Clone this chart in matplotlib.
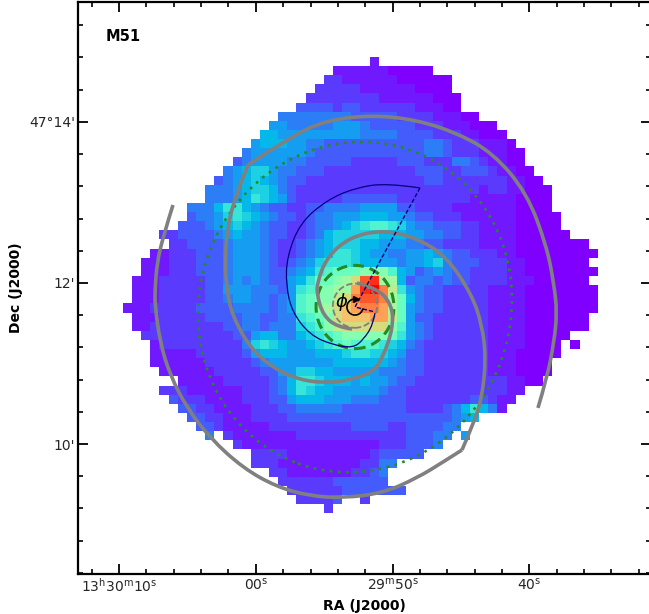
import numpy as np
import matplotlib
matplotlib.use("Agg")
import matplotlib.pyplot as plt
from matplotlib.colors import PowerNorm
from matplotlib.patches import Arc, Circle, Ellipse, PathPatch
from matplotlib.path import Path

# CO intensity map, one char per cell: '.' is blank, 0..k is 0..1 in steps of 0.05
levels = "0123456789abcdefghijk"
intensity_rows = [
    ".......... .......... .......1.. .......... .......... ..",
    ".......... .......... ...1111110 0000...... .......... ..",
    ".......... .......... ..22111111 000000.... .......... ..",
    ".......... .......... .222221111 110000.... .......... ..",
    ".......... .......... 2222222211 1111000... .......... ..",
    ".......... .........3 3332332222 2211100... .......... ..",
    ".......... .......444 4444433333 222211100. .......... ..",
    ".......... ......5544 4445554333 3322211100 0......... ..",
    ".......... .....66555 5555554444 3333222110 00........ ..",
    ".......... ....566655 4433333333 3334432221 110....... ..",
    ".......... ...4555555 4333333333 3334432221 1100...... ..",
    ".......... ..34555544 3333322222 3332224432 1100...... ..",
    ".......... .456775443 3322222222 2233322333 21100..... ..",
    ".......... 3456765433 2222222222 2223322222 221100.... ..",
    ".........4 4456776432 2222222222 2222222221 2211000... ..",
    ".........4 4456876532 2222333333 2222222211 1110000... ..",
    ".......444 6886543322 3344445555 3322221111 1110000... ..",
    ".......344 5787654332 3445556665 5433222111 11100000.. ..",
    "......3334 5676543322 3445678998 7544333221 11100000.. ..",
    "....223333 4565543322 3467777766 6554433221 111000000. ..",
    ".....22333 3455543223 4567776655 5443322221 1110000000 0.",
    "...1122233 3455543223 4568876554 4556543322 2110000000 00",
    "..11122233 3455543234 5788876655 4556743332 2211000000 0.",
    "..11122233 3455543345 689aaabbb9 6534543322 2211000000 00",
    ".111222223 3454543356 8aabceijcc 6344343322 2211100000 0.",
    ".111222223 3555444358 9bbccgjkhd 8543322222 1111000000 00",
    ".111222223 3455443459 abbdehiihc a643322222 1111000000 00",
    "1112222233 3344443459 abcefghhgc a543322222 1111000000 00",
    ".111222223 3334433448 9abefffggd a533222222 1111000000 0.",
    ".112222222 2334434447 89bdeeeeeb 9543222222 1111000000 0.",
    "..22222222 2233566446 789abbbbba 8543222222 111100000. ..",
    "...1222222 2224787655 6789a99987 6432222222 11110000.0 ..",
    "...1111122 2223566655 5666788776 5332222222 11100000.. ..",
    "...1111112 2222345555 5556666665 4332222222 1110000... ..",
    "....111111 2222233557 7665555544 4332222222 1110000... ..",
    "......1111 1222223468 8766656554 3322222222 221100.... ..",
    "....222111 1112223468 7665555543 3222222222 2211...... ..",
    ".....32221 1112223356 6655544433 3222222233 211....... ..",
    "......3322 1111222334 4444333333 3222234686 41........ ..",
    ".......332 2111222233 3333333333 333333456. .......... ..",
    "........33 2111112222 2222233332 2333344... .......... ..",
    ".........4 .211111112 2222222222 233344.5.. .......... ..",
    ".......... ..21111111 1111111122 23334..... .......... ..",
    ".......... ....222211 1111111233 333....... .......... ..",
    ".......... ....222111 1111112244 .......... .......... ..",
    ".......... ......2211 111112234. .......... .......... ..",
    ".......... .......222 222333333. .......... .......... ..",
    ".......... ........22 2222333333 3......... .......... ..",
    ".......... .........2 2223..2... .......... .......... ..",
    ".......... .......... ..2....... .......... .......... ..",
]

# everything below in arcsec from the nucleus (x grows to the west)
arm1a_x = [-135.6, -143, -147.5, -149, -149, -145.3, -137.8, -125.2, -108, -83.4, -58.1, -33.5, -8.9,
           20.9, 46.2, 65.6, 79.7]
arm1a_y = [76, 52.2, 32.8, 12.7, 1.5, -26.1, -50.7, -75.2, -97.6, -120, -134.1, -140.8, -142.3,
           -138.6, -127.4, -115.5, -106.5]
arm1b_x = [79.7, 87.9, 94.6, 97.6, 94.6, 87.2, 68.5, 46.2, 20.9, -3.7, -20.9, -28.3, -28.3, -23.8,
           -13.4, -2.2]
arm1b_y = [-106.5, -87.9, -67.8, -38, -13.4, 8.9, 37.3, 51.4, 57.4, 52.2, 37.3, 17.9, 8.9, -6,
           -14.9, -16.4]
arm2a_x = [136.3, 143, 148.3, 150.5, 148.3, 143, 128.1, 102.8, 76, 46.2, 13.4, -20.9, -48.4, -79.7]
arm2a_y = [-75.2, -52.9, -26.1, -3.7, 16.4, 44.7, 84.9, 114.7, 129.6, 139.3, 143, 139.3, 126.7, 105.8]
arm2b_x = [-79.7, -89.4, -95.4, -96.9, -95.4, -91.6, -78.2, -61.1, -41, -20.9, -3.7, 13.4, 20.9, 28.3,
           27.6, 16.4, 1.5]
arm2b_y = [105.8, 82, 57.4, 32.8, 12.7, -6, -30.5, -45.4, -54.4, -56.6, -54.4, -48.4, -37.3, -15.6,
           1.5, 14.2, 17.9]
spiral_x = [48.4, 23.8, 0, -20.9, -41, -50.7, -51.4, -46.9, -33.5, -16.4, -1.5, 6, 13.4, 14.9]
spiral_y = [88.7, 92.4, 88.7, 79.7, 62.6, 37.3, 16.4, -3.7, -20.9, -28.3, -30.5, -24.6, -13.4, -4.5]
wedge_x = [48.4, 0, 14.9]
wedge_y = [88.7, 0, -3.7]

ra_sec = [10, 0, -10, -20]
ra_labels = [r"13$^{\mathrm{h}}$30$^{\mathrm{m}}$10$^{\mathrm{s}}$", r"00$^{\mathrm{s}}$",
             r"29$^{\mathrm{m}}$50$^{\mathrm{s}}$", r"40$^{\mathrm{s}}$"]
dec_min = [14, 12, 10]
dec_labels = ["47\u00b014'", "12'", "10'"]


def ra_to_x(sec):
    return (10 - np.asarray(sec, dtype=float)) * 10.19 - 175.8


def dec_to_y(arcmin):
    return (np.asarray(arcmin, dtype=float) - 12) * 60 + 17.9


def load_map():
    vals = []
    for row in intensity_rows:
        row = row.replace(" ", "").ljust(52, ".")
        vals.append([np.nan if c == "." else levels.index(c) / 20 for c in row])
    return np.ma.masked_invalid(np.array(vals))


def draw_curve(ax, xs, ys, **kw):
    # quadratic beziers with the read points as controls, keeps the arm from looking faceted
    pts = np.column_stack([xs, ys])
    verts = [pts[0]]
    codes = [Path.MOVETO]
    for i in range(1, len(pts) - 1):
        end = pts[i + 1] if i == len(pts) - 2 else (pts[i] + pts[i + 1]) / 2
        verts += [pts[i], end]
        codes += [Path.CURVE3, Path.CURVE3]
    ax.add_patch(PathPatch(Path(verts, codes), fill=False, **kw))


fig = plt.figure(figsize=(6.49, 6.14), dpi=100)
ax = fig.add_axes([78 / 649, 1 - 574 / 614, 572.5 / 649, 572 / 614])

data = load_map()
x_edges = -172.9 + 6.805 * np.arange(data.shape[1] + 1)
y_edges = 186.3 - 6.8 * np.arange(data.shape[0] + 1)
ax.pcolormesh(x_edges, y_edges, data, cmap="rainbow", norm=PowerNorm(1.12, vmin=0, vmax=1), linewidth=0,
              rasterized=True)

ax.add_patch(Ellipse((0, 0), 232, 248, angle=-20, fill=False, ec="#228b22", lw=1.9, ls=(0, (1, 2.1))))
ax.add_patch(Ellipse((0, 0), 58, 62, fill=False, ec="#228b22", lw=2.2, ls=(0, (3.5, 2))))
ax.add_patch(Circle((0, 1), 16.5, fill=False, ec="gray", lw=1.3, ls=(0, (3.5, 1.5))))

for xs, ys in [(arm1a_x, arm1a_y), (arm1b_x, arm1b_y), (arm2a_x, arm2a_y), (arm2b_x, arm2b_y)]:
    draw_curve(ax, xs, ys, ec="gray", lw=2.6, capstyle="butt")
draw_curve(ax, spiral_x, spiral_y, ec="navy", lw=0.9)
ax.plot(wedge_x, wedge_y, color="navy", lw=1.0, ls=(0, (3, 1.5)))

ax.add_patch(Arc((0, 0), 12, 12, theta1=90, theta2=350, color="black", lw=1.2))
ax.plot([0.5], [6.2], marker=">", color="black", ms=5)
ax.text(-10, 3.5, r"$\phi$", fontsize=13, ha="center", va="center")
ax.text(0.049, 0.94, "M51", transform=ax.transAxes, fontsize=10.5, fontweight="bold", va="center")

ax.set_xticks(ra_to_x(ra_sec))
ax.set_xticklabels(ra_labels)
ax.set_yticks(dec_to_y(dec_min))
ax.set_yticklabels(dec_labels)
ax.set_xticks(ra_to_x(np.arange(12, -32, -2)), minor=True)
ax.set_yticks(dec_to_y(np.arange(8.4, 15.6, 0.4)), minor=True)

ax.set_xlim((78 - 355) * 0.745, (650.5 - 355) * 0.745)
ax.set_ylim((307 - 574) * 0.745, (307 - 2) * 0.745)

ax.tick_params(which="both", direction="in", top=True, right=True, color="black")
ax.tick_params(which="major", length=7.5, width=1.3, labelsize=10, labelcolor="#262626", pad=2)
ax.tick_params(which="minor", length=3.5, width=1.2)
for side in ax.spines.values():
    side.set_linewidth(1.6)

ax.set_xlabel("RA (J2000)", fontweight="bold", fontsize=10, labelpad=3)
ax.set_ylabel("Dec (J2000)", fontweight="bold", fontsize=10, labelpad=4.5)

fig.savefig("out.png", dpi=100)
